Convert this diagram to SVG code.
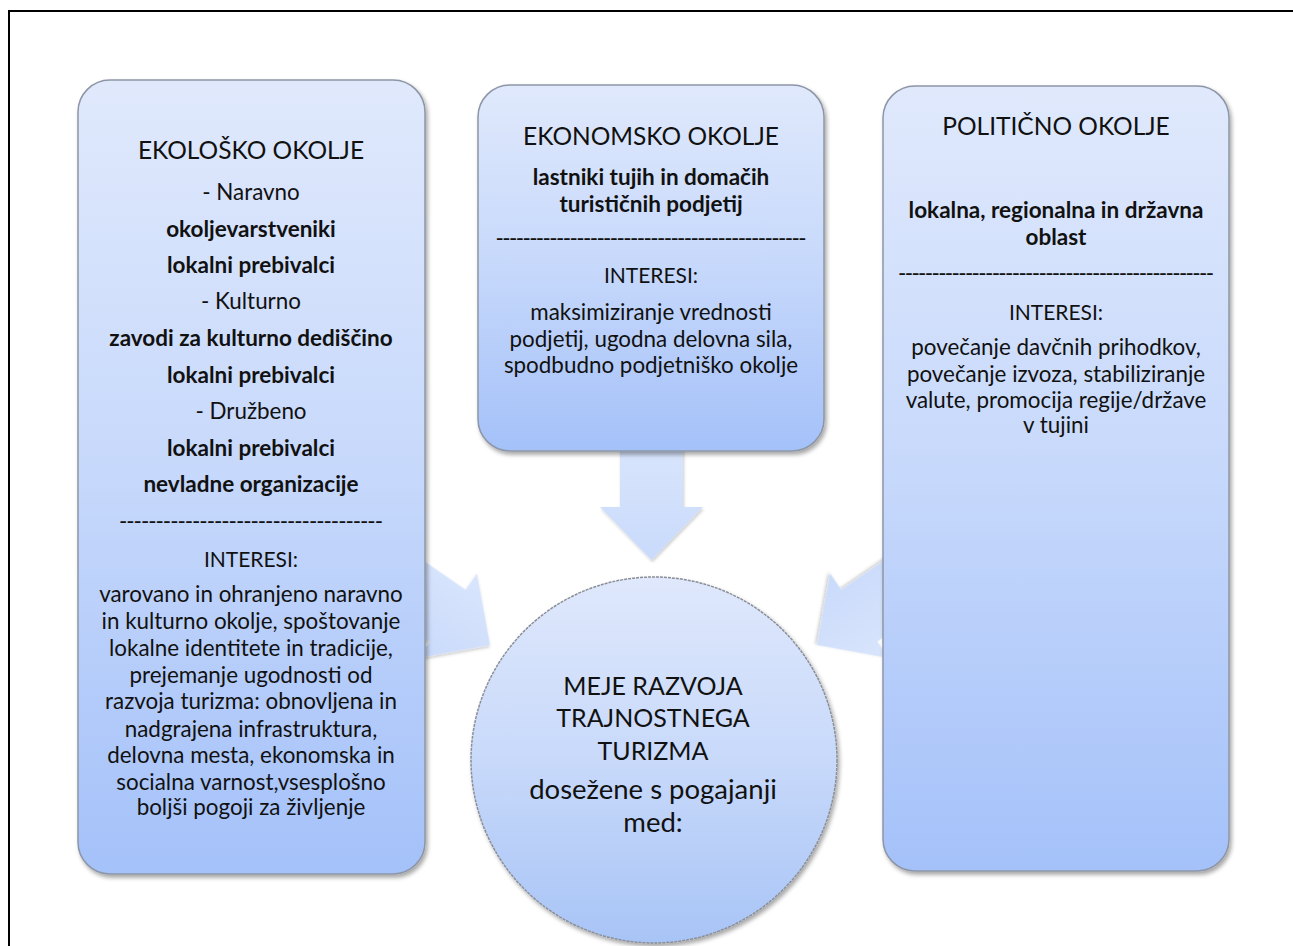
<svg xmlns="http://www.w3.org/2000/svg" width="1293" height="946" viewBox="0 0 1293 946">
<defs>
<linearGradient id="gBox" x1="0" y1="0" x2="0" y2="1">
<stop offset="0" stop-color="#e0e9fc"/>
<stop offset="0.5" stop-color="#c6d8fb"/>
<stop offset="1" stop-color="#a4c1f9"/>
</linearGradient>
<linearGradient id="gCircle" x1="0" y1="0" x2="0" y2="1">
<stop offset="0" stop-color="#dfe8fc"/>
<stop offset="0.5" stop-color="#c8d9fa"/>
<stop offset="1" stop-color="#a8c4f6"/>
</linearGradient>
<linearGradient id="gArrow" x1="0" y1="0" x2="0" y2="1">
<stop offset="0" stop-color="#d9e5fc"/>
<stop offset="1" stop-color="#c9dafb"/>
</linearGradient>
<filter id="shadow" x="-10%" y="-10%" width="120%" height="120%">
<feDropShadow dx="2" dy="3" stdDeviation="2" flood-color="#000" flood-opacity="0.35"/>
</filter>
<filter id="shadowLight" x="-10%" y="-10%" width="130%" height="130%">
<feDropShadow dx="1" dy="2" stdDeviation="1.5" flood-color="#000" flood-opacity="0.2"/>
</filter>
</defs>
<style>
.box { fill: url(#gBox); stroke: #8d96a6; stroke-width: 1.5; filter: url(#shadow); }
.circ { fill: url(#gCircle); stroke: #8a8f99; stroke-width: 1.5; stroke-dasharray: 3 1; filter: url(#shadow); }
.arrow { fill: url(#gArrow); filter: url(#shadowLight); }
text { font-family: Lato, "Noto Sans", "Liberation Sans", sans-serif; fill: #111; text-anchor: middle; }
.t { font-size: 24.5px; }
.ct { font-size: 25px; }
.cl { font-size: 27.5px; }
.b { font-size: 22.5px; font-weight: bold; }
.n { font-size: 22.4px; }
.i { font-size: 21px; }
</style>
<rect x="9" y="11" width="1300" height="950" fill="#fff" stroke="#000" stroke-width="2"/>
<g id="connectors">
<path class="arrow" d="M620,440 L683,440 L683,507 L703,507 L651.5,560 L600,507 L620,507 Z"/>
<path class="arrow" transform="translate(490,645) rotate(34.7)" d="M0,0 L-51.5,-51.5 L-51.5,-31.5 L-130,-31.5 L-130,31.5 L-51.5,31.5 L-51.5,51.5 Z"/>
<path class="arrow" transform="translate(817,645) rotate(145.3)" d="M0,0 L-51.5,-51.5 L-51.5,-31.5 L-130,-31.5 L-130,31.5 L-51.5,31.5 L-51.5,51.5 Z"/>
</g>
<g id="ekolosko">
<rect class="box" x="78" y="80" width="347" height="794" rx="32"/>
<text class="t" x="251" y="159">EKOLOŠKO OKOLJE</text>
<text class="n" x="251" y="200">- Naravno</text>
<text class="b" x="251" y="237">okoljevarstveniki</text>
<text class="b" x="251" y="273">lokalni prebivalci</text>
<text class="n" x="251" y="309">- Kulturno</text>
<text class="b" x="251" y="346">zavodi za kulturno dediščino</text>
<text class="b" x="251" y="383">lokalni prebivalci</text>
<text class="n" x="251" y="419">- Družbeno</text>
<text class="b" x="251" y="456">lokalni prebivalci</text>
<text class="b" x="251" y="492">nevladne organizacije</text>
<text class="n" x="251" y="529" textLength="264" lengthAdjust="spacing">------------------------------------</text>
<text class="i" x="251" y="567">INTERESI:</text>
<text class="n" x="251" y="602">varovano in ohranjeno naravno</text>
<text class="n" x="251" y="629">in kulturno okolje, spoštovanje</text>
<text class="n" x="251" y="656">lokalne identitete in tradicije,</text>
<text class="n" x="251" y="683">prejemanje ugodnosti od</text>
<text class="n" x="251" y="709">razvoja turizma: obnovljena in</text>
<text class="n" x="251" y="737">nadgrajena infrastruktura,</text>
<text class="n" x="251" y="763">delovna mesta, ekonomska in</text>
<text class="n" x="251" y="790">socialna varnost,vsesplošno</text>
<text class="n" x="251" y="815">boljši pogoji za življenje</text>
</g>
<g id="ekonomsko">
<rect class="box" x="478" y="85" width="346" height="366" rx="32"/>
<text class="t" x="651" y="145">EKONOMSKO OKOLJE</text>
<text class="b" x="651" y="185">lastniki tujih in domačih</text>
<text class="b" x="651" y="212">turističnih podjetij</text>
<text class="n" x="651" y="246" textLength="311" lengthAdjust="spacing">----------------------------------------------</text>
<text class="i" x="651" y="283">INTERESI:</text>
<text class="n" x="651" y="320">maksimiziranje vrednosti</text>
<text class="n" x="651" y="347">podjetij, ugodna delovna sila,</text>
<text class="n" x="651" y="373">spodbudno podjetniško okolje</text>
</g>
<g id="politicno">
<rect class="box" x="883" y="86" width="346" height="785" rx="32"/>
<text class="t" x="1056" y="135">POLITIČNO OKOLJE</text>
<text class="b" x="1056" y="218">lokalna, regionalna in državna</text>
<text class="b" x="1056" y="245">oblast</text>
<text class="n" x="1056" y="281" textLength="316" lengthAdjust="spacing">-----------------------------------------------</text>
<text class="i" x="1056" y="320">INTERESI:</text>
<text class="n" x="1056" y="355">povečanje davčnih prihodkov,</text>
<text class="n" x="1056" y="382">povečanje izvoza, stabiliziranje</text>
<text class="n" x="1056" y="408">valute, promocija regije/države</text>
<text class="n" x="1056" y="433">v tujini</text>
</g>
<g id="meje">
<circle class="circ" cx="654" cy="760" r="183"/>
<text class="ct" x="653" y="695">MEJE RAZVOJA</text>
<text class="ct" x="653" y="727">TRAJNOSTNEGA</text>
<text class="ct" x="653" y="760">TURIZMA</text>
<text class="cl" x="653" y="799">dosežene s pogajanji</text>
<text class="cl" x="653" y="832">med:</text>
</g>
</svg>
